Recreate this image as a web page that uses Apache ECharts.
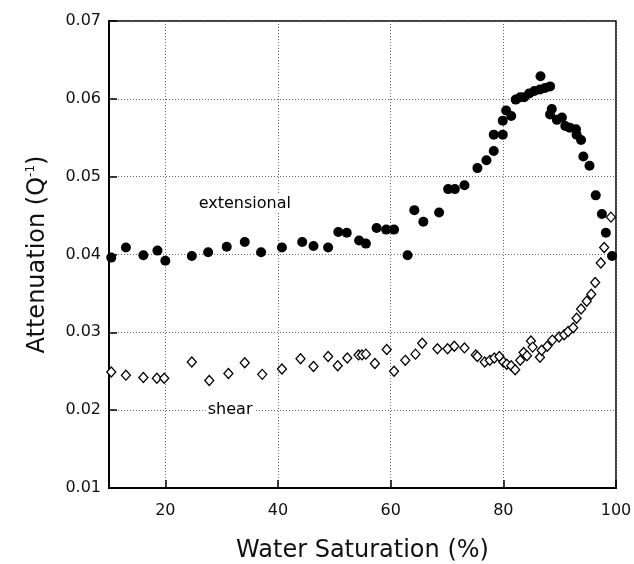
<!DOCTYPE html>
<html>
<head>
<meta charset="utf-8">
<script src="https://cdn.jsdelivr.net/npm/echarts@6/dist/echarts.min.js"></script>
<style>
  html, body { margin: 0; padding: 0; background: #fff; }
  #chart { width: 634px; height: 564px; }
</style>
</head>
<body>
<div id="chart"></div>
<script>
// Water saturation (%) and attenuation (1/Q) for the extensional mode
const extSaturation = [10.4, 13.0, 16.1, 18.6, 20.0, 24.7, 27.6, 30.9, 34.1, 37.0, 40.7, 44.3, 46.3, 48.9,
  50.7, 52.2, 54.4, 55.6, 57.5, 59.2, 60.6, 63.0, 64.2, 65.8, 68.6, 70.2, 71.4, 73.1, 75.4, 77.0, 78.3,
  78.3, 79.9, 79.9, 80.5, 81.4, 82.2, 83.0, 83.7, 84.6, 85.5, 86.6, 86.5, 87.4, 88.3, 88.6, 88.3, 89.5,
  90.4, 91.0, 91.8, 92.9, 93.0, 93.8, 94.2, 95.3, 96.4, 97.5, 98.2, 99.3];
const extAttenuation = [0.0396, 0.0409, 0.0399, 0.0405, 0.0392, 0.0398, 0.0403, 0.0410, 0.0416, 0.0403,
  0.0409, 0.0416, 0.0411, 0.0409, 0.0429, 0.0428, 0.0418, 0.0414, 0.0434, 0.0432, 0.0432, 0.0399, 0.0457,
  0.0442, 0.0454, 0.0484, 0.0484, 0.0489, 0.0511, 0.0521, 0.0533, 0.0554, 0.0554, 0.0572, 0.0585, 0.0578,
  0.0599, 0.0602, 0.0602, 0.0607, 0.0610, 0.0629, 0.0612, 0.0614, 0.0616, 0.0587, 0.0580, 0.0573, 0.0576,
  0.0565, 0.0563, 0.0561, 0.0554, 0.0547, 0.0526, 0.0514, 0.0476, 0.0452, 0.0428, 0.0398];

// Water saturation (%) and attenuation (1/Q) for the shear mode
const shearSaturation = [10.4, 13.0, 16.1, 18.5, 19.8, 24.7, 27.8, 31.2, 34.1, 37.2, 40.7, 44.0, 46.3,
  48.9, 50.6, 52.3, 54.3, 54.9, 55.6, 57.2, 59.3, 60.6, 62.6, 64.4, 65.6, 68.3, 70.1, 71.3, 73.1, 75.1,
  75.4, 76.7, 77.6, 78.4, 79.3, 80.0, 80.6, 81.4, 82.1, 83.0, 83.6, 84.2, 84.9, 85.2, 86.5, 86.8, 87.8,
  88.7, 89.9, 90.8, 91.5, 92.4, 93.0, 93.8, 94.8, 95.6, 96.3, 97.3, 97.9, 99.1];
const shearAttenuation = [0.0249, 0.0245, 0.0242, 0.0241, 0.0241, 0.0262, 0.0238, 0.0247, 0.0261, 0.0246,
  0.0253, 0.0266, 0.0256, 0.0269, 0.0257, 0.0267, 0.0271, 0.0271, 0.0272, 0.0260, 0.0278, 0.0250, 0.0264,
  0.0272, 0.0286, 0.0279, 0.0279, 0.0282, 0.0280, 0.0271, 0.0269, 0.0262, 0.0264, 0.0267, 0.0269, 0.0262,
  0.0259, 0.0257, 0.0252, 0.0264, 0.0274, 0.0270, 0.0289, 0.0281, 0.0268, 0.0277, 0.0282, 0.0290, 0.0294,
  0.0297, 0.0301, 0.0306, 0.0318, 0.0330, 0.0340, 0.0349, 0.0364, 0.0389, 0.0409, 0.0448];

// Axis ticks
const xTicks = [20, 40, 60, 80, 100];
const yTicks = [0.01, 0.02, 0.03, 0.04, 0.05, 0.06, 0.07];

// In-plot series labels: [saturation, attenuation, text]
const curveLabels = [[34.1, 0.0465, 'extensional'], [31.5, 0.0200, 'shear']];

const FONT = '"DejaVu Sans", "Liberation Sans", Arial, sans-serif';
const pairs = (xs, ys) => xs.map((x, i) => [x, ys[i]]);

const chart = echarts.init(document.getElementById('chart'), null, { renderer: 'canvas' });

chart.setOption({
  backgroundColor: '#ffffff',
  animation: false,
  grid: {
    left: 109, top: 21, width: 507, height: 467,
    outerBoundsMode: 'none', containLabel: false,
    show: true, borderColor: '#000', borderWidth: 1.5, backgroundColor: 'transparent'
  },
  xAxis: {
    type: 'value', min: 10, max: 100,
    name: 'Water Saturation (%)', nameLocation: 'middle', nameGap: 51,
    nameTextStyle: { fontFamily: FONT, fontSize: 24, color: '#111' },
    axisLine: { show: true, lineStyle: { color: '#000', width: 2 } },
    axisTick: { show: true, inside: true, length: 8, customValues: xTicks, lineStyle: { color: '#000', width: 1.5 } },
    axisLabel: { customValues: xTicks, margin: 15, fontFamily: FONT, fontSize: 16, color: '#111' },
    splitLine: { show: true, lineStyle: { color: '#666', type: [1, 2], width: 1 } }
  },
  yAxis: {
    type: 'value', min: yTicks[0], max: yTicks[yTicks.length - 1], interval: 0.01,
    name: '{t|Attenuation (Q}{s|-1}{t|)}', nameLocation: 'middle', nameGap: 58, nameRotate: 90,
    nameTextStyle: {
      rich: {
        t: { fontFamily: FONT, fontSize: 24, color: '#111' },
        s: { fontFamily: FONT, fontSize: 12, color: '#111', padding: [0, 0, 14, 0] }
      }
    },
    axisLine: { show: true, lineStyle: { color: '#000', width: 2 } },
    axisTick: { show: true, inside: true, length: 8, lineStyle: { color: '#000', width: 1.5 } },
    axisLabel: { margin: 8, fontFamily: FONT, fontSize: 16, color: '#111', formatter: v => v.toFixed(2) },
    splitLine: { show: true, lineStyle: { color: '#666', type: [1, 2], width: 1 } }
  },
  series: [
    {
      name: 'extensional', type: 'scatter', z: 3,
      data: pairs(extSaturation, extAttenuation),
      symbol: 'circle', symbolSize: 10,
      itemStyle: { color: '#000', borderWidth: 0, opacity: 1 }
    },
    {
      name: 'shear', type: 'scatter', z: 3,
      data: pairs(shearSaturation, shearAttenuation),
      symbol: 'diamond', symbolSize: [9, 10],
      itemStyle: { color: '#fff', borderColor: '#000', borderWidth: 1.3, opacity: 1 }
    },
    {
      name: 'labels', type: 'scatter', z: 2, symbolSize: 0, silent: true,
      data: curveLabels.map(d => ({ value: [d[0], d[1]], label: { formatter: d[2] } })),
      itemStyle: { opacity: 1 },
      label: {
        show: true, position: 'inside', fontFamily: FONT, fontSize: 16, color: '#000', opacity: 1,
        backgroundColor: '#fff', padding: [1, 2]
      }
    }
  ]
});
</script>
</body>
</html>
